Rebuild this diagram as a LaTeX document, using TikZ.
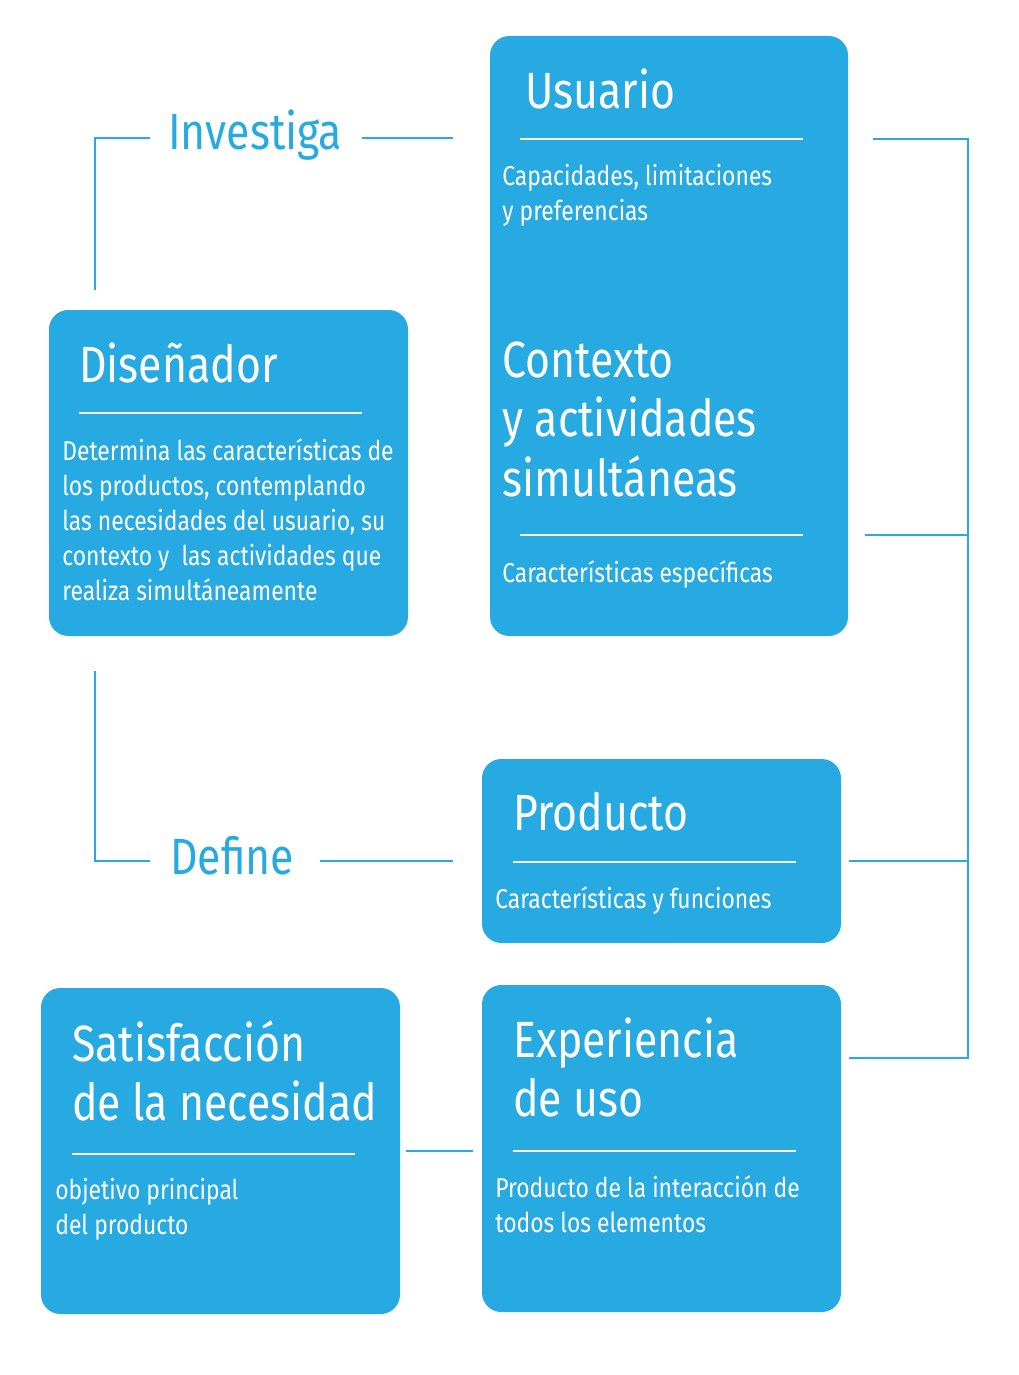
\documentclass[tikz,border=0pt]{standalone}
\usepackage{fontspec}
\setmainfont[FakeStretch=0.84]{Fira Sans}
\definecolor{celeste}{HTML}{27A9E1}
\tikzset{
  caja/.style={fill=celeste, rounded corners=11pt},
  titulo/.style={anchor=north west, white, font=\fontsize{29}{34}\selectfont, align=left, inner sep=0pt},
  texto/.style={anchor=north west, white, font=\fontsize{15.5}{20}\selectfont, align=left, inner sep=0pt},
  verbo/.style={anchor=base west, celeste, font=\fontsize{29}{36}\selectfont, inner sep=0pt},
  raya/.style={white, line width=1pt},
  enlace/.style={celeste, line width=1.6pt}
}
\begin{document}
\begin{tikzpicture}[x=0.02cm, y=-0.02cm]
    \useasboundingbox (0, 0) rectangle (1018, 1375);

    % cajas
    \fill[caja] (490, 36) rectangle (848, 636);
    \fill[caja] (49, 310) rectangle (408, 636);
    \fill[caja] (482, 759) rectangle (841, 943);
    \fill[caja] (41, 988) rectangle (400, 1314);
    \fill[caja] (482, 985) rectangle (841, 1312);

    % rayas
    \draw[raya] (520, 139) -- (803, 139);
    \draw[raya] (520, 535) -- (803, 535);
    \draw[raya] (79, 413) -- (362, 413);
    \draw[raya] (513, 862) -- (796, 862);
    \draw[raya] (72, 1154) -- (355, 1154);
    \draw[raya] (513, 1151) -- (796, 1151);

    % textos
    \node[titulo] (usuario) at (525, 68) {Usuario};
    \node[texto] (usuariotxt) at (502, 164) {Capacidades, limitaciones\\y preferencias};
    \node[titulo] (contexto) at (502, 341) {Contexto\\y actividades\\simultáneas};
    \node[texto] (contextotxt) at (502, 560) {Características específicas};
    \node[titulo] (disenador) at (79, 342) {Diseñador};
    \node[texto] (disenadortxt) at (62, 438) {Determina las características de\\los productos, contemplando\\las necesidades del usuario, su\\contexto y\ \ las actividades que\\realiza simultáneamente};
    \node[titulo] (producto) at (513, 792) {Producto};
    \node[texto] (productotxt) at (495, 886) {Características y funciones};
    \node[titulo] (satisfaccion) at (72, 1020) {Satisfacción\\de la necesidad};
    \node[texto] (satisfacciontxt) at (55, 1178) {objetivo principal\\del producto};
    \node[titulo] (experiencia) at (513, 1017) {Experiencia\\de uso};
    \node[texto] (experienciatxt) at (495, 1175) {Producto de la interacción de\\todos los elementos};

    \node[verbo] (investiga) at (168, 150) {Investiga};
    \node[verbo] (define) at (170, 874) {Define};

    % enlaces
    \draw[enlace] (95, 290) -- (95, 138) -- (150, 138);
    \draw[enlace] (362, 138) -- (453, 138);
    \draw[enlace] (95, 671) -- (95, 861) -- (150, 861);
    \draw[enlace] (320, 861) -- (453, 861);
    \draw[enlace] (873, 139) -- (968, 139) -- (968, 1058) -- (849, 1058);
    \draw[enlace] (865, 535) -- (968, 535);
    \draw[enlace] (849, 861) -- (968, 861);
    \draw[enlace] (406, 1151) -- (473, 1151);
\end{tikzpicture}
\end{document}
